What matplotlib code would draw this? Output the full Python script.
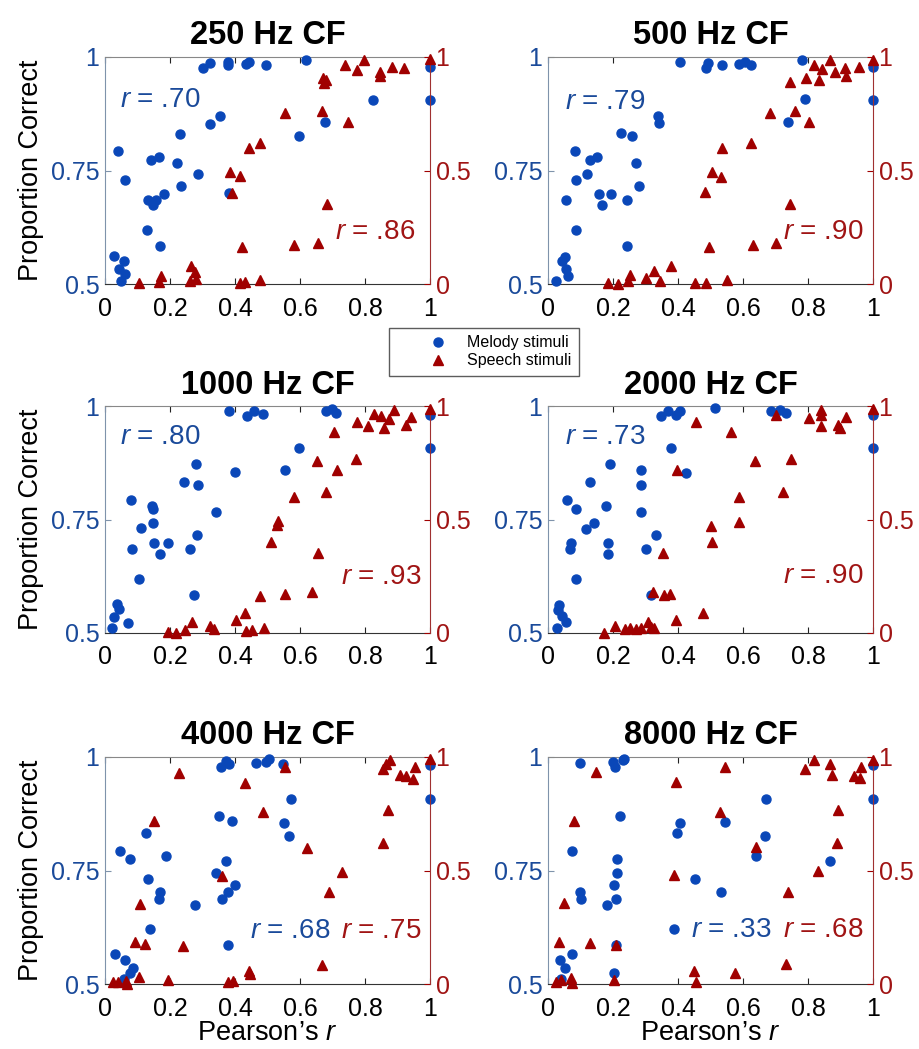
import matplotlib.pyplot as plt
from matplotlib.lines import Line2D

plt.rcParams['font.family'] = ['Liberation Sans', 'DejaVu Sans']
plt.rcParams['mathtext.fontset'] = 'custom'
plt.rcParams['mathtext.it'] = 'Liberation Sans:italic'
plt.rcParams['mathtext.rm'] = 'Liberation Sans'

# ---- data (x = Pearson's r) ----
# melody: left axis (proportion correct), speech: right axis
mel_x_250 = [0.301, 0.322, 0.378, 0.378, 0.435, 0.443, 0.496, 0.618, 1.0, 1.0, 0.825, 0.353, 0.322, 0.231, 0.597, 0.676, 0.039, 0.142, 0.165, 0.221, 0.063, 0.287, 0.234, 0.381, 0.132, 0.147, 0.157, 0.181, 0.129, 0.170, 0.029, 0.057, 0.044, 0.063, 0.049]
mel_y_250 = [0.976, 0.987, 0.983, 0.988, 0.985, 0.988, 0.983, 0.994, 0.979, 0.906, 0.906, 0.870, 0.853, 0.830, 0.826, 0.856, 0.793, 0.774, 0.779, 0.767, 0.730, 0.743, 0.715, 0.701, 0.686, 0.673, 0.684, 0.699, 0.618, 0.583, 0.561, 0.550, 0.533, 0.521, 0.507]
sp_x_250 = [1.0, 0.738, 0.798, 0.774, 0.846, 0.846, 0.882, 0.920, 0.671, 0.681, 0.673, 0.553, 0.669, 0.748, 0.443, 0.478, 0.385, 0.416, 0.392, 0.684, 0.422, 0.582, 0.656, 0.265, 0.276, 0.281, 0.260, 0.171, 0.167, 0.104, 0.414, 0.430, 0.478]
sp_y_250 = [0.991, 0.966, 0.985, 0.944, 0.932, 0.917, 0.956, 0.951, 0.907, 0.897, 0.885, 0.755, 0.764, 0.715, 0.600, 0.619, 0.494, 0.475, 0.401, 0.354, 0.165, 0.174, 0.181, 0.081, 0.052, 0.022, 0.015, 0.037, 0.007, 0.003, 0.003, 0.007, 0.018]

mel_x_500 = [0.405, 0.487, 0.492, 0.536, 0.587, 0.605, 0.626, 0.783, 1.0, 1.0, 0.790, 0.738, 0.338, 0.342, 0.226, 0.259, 0.082, 0.128, 0.151, 0.270, 0.085, 0.121, 0.279, 0.157, 0.195, 0.167, 0.056, 0.243, 0.087, 0.243, 0.051, 0.044, 0.054, 0.062, 0.024]
mel_y_500 = [0.988, 0.976, 0.987, 0.983, 0.985, 0.988, 0.983, 0.994, 0.979, 0.906, 0.907, 0.857, 0.870, 0.854, 0.832, 0.826, 0.794, 0.774, 0.779, 0.767, 0.730, 0.742, 0.715, 0.699, 0.699, 0.673, 0.684, 0.684, 0.618, 0.583, 0.560, 0.550, 0.533, 0.518, 0.507]
sp_x_500 = [1.0, 0.867, 0.817, 0.844, 0.882, 0.913, 0.918, 0.957, 0.793, 0.834, 0.746, 0.684, 0.759, 0.803, 0.536, 0.626, 0.504, 0.532, 0.482, 0.744, 0.495, 0.631, 0.703, 0.379, 0.325, 0.344, 0.303, 0.251, 0.246, 0.185, 0.215, 0.451, 0.487, 0.551]
sp_y_500 = [0.988, 0.985, 0.966, 0.947, 0.932, 0.951, 0.917, 0.956, 0.907, 0.900, 0.888, 0.755, 0.764, 0.715, 0.597, 0.619, 0.494, 0.472, 0.406, 0.354, 0.165, 0.173, 0.180, 0.081, 0.056, 0.015, 0.025, 0.041, 0.012, 0.003, 0.0, 0.003, 0.004, 0.018]

mel_x_1000 = [0.381, 0.437, 0.460, 0.486, 0.679, 0.699, 0.710, 1.0, 1.0, 0.597, 0.553, 0.399, 0.281, 0.242, 0.286, 0.080, 0.145, 0.149, 0.342, 0.147, 0.111, 0.284, 0.150, 0.195, 0.170, 0.082, 0.260, 0.104, 0.273, 0.036, 0.042, 0.029, 0.070, 0.021]
mel_y_1000 = [0.990, 0.977, 0.988, 0.982, 0.988, 0.993, 0.984, 0.980, 0.907, 0.908, 0.858, 0.855, 0.872, 0.832, 0.826, 0.792, 0.780, 0.774, 0.766, 0.742, 0.731, 0.715, 0.699, 0.699, 0.674, 0.685, 0.685, 0.619, 0.584, 0.564, 0.553, 0.535, 0.522, 0.510]
sp_x_1000 = [1.0, 0.889, 0.827, 0.848, 0.875, 0.941, 0.776, 0.810, 0.859, 0.926, 0.705, 0.651, 0.771, 0.715, 0.581, 0.681, 0.532, 0.529, 0.510, 0.654, 0.478, 0.555, 0.636, 0.430, 0.404, 0.433, 0.453, 0.488, 0.268, 0.245, 0.193, 0.219, 0.322, 0.334]
sp_y_1000 = [0.985, 0.982, 0.965, 0.956, 0.941, 0.953, 0.931, 0.912, 0.902, 0.916, 0.887, 0.758, 0.767, 0.718, 0.597, 0.619, 0.494, 0.477, 0.403, 0.352, 0.164, 0.173, 0.180, 0.088, 0.059, 0.007, 0.012, 0.022, 0.048, 0.015, 0.004, 0.0, 0.029, 0.018]

mel_x_2000 = [0.513, 0.349, 0.369, 0.395, 0.407, 0.687, 0.713, 0.731, 1.0, 1.0, 0.379, 0.426, 0.190, 0.287, 0.287, 0.128, 0.059, 0.085, 0.179, 0.285, 0.118, 0.142, 0.331, 0.185, 0.185, 0.072, 0.067, 0.303, 0.085, 0.318, 0.034, 0.031, 0.044, 0.054, 0.028]
mel_y_2000 = [0.995, 0.977, 0.988, 0.980, 0.988, 0.988, 0.991, 0.984, 0.980, 0.907, 0.907, 0.853, 0.872, 0.858, 0.826, 0.832, 0.792, 0.773, 0.779, 0.767, 0.730, 0.742, 0.715, 0.699, 0.674, 0.699, 0.685, 0.685, 0.619, 0.584, 0.562, 0.551, 0.537, 0.524, 0.510]
sp_x_2000 = [1.0, 0.841, 0.841, 0.703, 0.803, 0.916, 0.839, 0.892, 0.897, 0.454, 0.564, 0.636, 0.749, 0.398, 0.723, 0.588, 0.588, 0.503, 0.505, 0.354, 0.323, 0.356, 0.374, 0.395, 0.477, 0.205, 0.172, 0.236, 0.253, 0.272, 0.287, 0.308, 0.318, 0.325]
sp_y_2000 = [0.985, 0.982, 0.960, 0.960, 0.946, 0.953, 0.912, 0.916, 0.902, 0.931, 0.887, 0.758, 0.765, 0.718, 0.619, 0.597, 0.491, 0.472, 0.403, 0.352, 0.180, 0.169, 0.173, 0.059, 0.088, 0.032, 0.0, 0.018, 0.020, 0.016, 0.020, 0.047, 0.025, 0.020]

mel_x_4000 = [0.358, 0.373, 0.383, 0.466, 0.494, 0.505, 0.548, 1.0, 1.0, 0.573, 0.350, 0.392, 0.551, 0.565, 0.126, 0.047, 0.077, 0.188, 0.371, 0.132, 0.340, 0.399, 0.378, 0.361, 0.170, 0.165, 0.277, 0.137, 0.378, 0.032, 0.062, 0.087, 0.077, 0.057]
mel_y_4000 = [0.978, 0.991, 0.984, 0.987, 0.989, 0.996, 0.985, 0.982, 0.908, 0.908, 0.871, 0.858, 0.854, 0.827, 0.832, 0.794, 0.776, 0.781, 0.770, 0.732, 0.745, 0.717, 0.702, 0.688, 0.702, 0.688, 0.675, 0.621, 0.587, 0.565, 0.553, 0.535, 0.524, 0.511]
sp_x_4000 = [1.0, 0.877, 0.864, 0.854, 0.954, 0.907, 0.926, 0.947, 0.553, 0.227, 0.430, 0.872, 0.486, 0.152, 0.856, 0.623, 0.730, 0.361, 0.690, 0.108, 0.092, 0.124, 0.240, 0.669, 0.442, 0.445, 0.106, 0.193, 0.378, 0.394, 0.024, 0.039, 0.065, 0.067]
sp_y_4000 = [0.993, 0.985, 0.968, 0.949, 0.956, 0.919, 0.915, 0.904, 0.956, 0.929, 0.885, 0.765, 0.757, 0.716, 0.621, 0.600, 0.493, 0.474, 0.404, 0.353, 0.184, 0.176, 0.169, 0.085, 0.059, 0.044, 0.029, 0.018, 0.007, 0.015, 0.007, 0.010, 0.015, 0.0]

mel_x_8000 = [0.097, 0.200, 0.205, 0.231, 0.233, 1.0, 1.0, 0.672, 0.223, 0.405, 0.397, 0.544, 0.669, 0.074, 0.212, 0.213, 0.203, 0.208, 0.182, 0.097, 0.101, 0.451, 0.531, 0.641, 0.867, 0.387, 0.208, 0.074, 0.036, 0.051, 0.039, 0.202]
mel_y_8000 = [0.987, 0.989, 0.978, 0.993, 0.996, 0.982, 0.908, 0.908, 0.871, 0.854, 0.832, 0.857, 0.827, 0.794, 0.776, 0.744, 0.717, 0.688, 0.675, 0.702, 0.688, 0.732, 0.702, 0.781, 0.770, 0.621, 0.586, 0.565, 0.553, 0.535, 0.511, 0.524]
sp_x_8000 = [1.0, 0.818, 0.790, 0.867, 0.874, 0.964, 0.942, 0.959, 0.544, 0.147, 0.395, 0.528, 0.892, 0.079, 0.890, 0.641, 0.831, 0.387, 0.738, 0.048, 0.034, 0.130, 0.208, 0.731, 0.449, 0.454, 0.574, 0.202, 0.024, 0.041, 0.070, 0.074]
sp_y_8000 = [0.988, 0.985, 0.949, 0.968, 0.919, 0.956, 0.918, 0.907, 0.956, 0.934, 0.890, 0.757, 0.768, 0.718, 0.621, 0.603, 0.496, 0.478, 0.407, 0.357, 0.187, 0.179, 0.174, 0.088, 0.059, 0.010, 0.050, 0.018, 0.007, 0.018, 0.026, 0.004]

titles = ['250 Hz CF', '500 Hz CF', '1000 Hz CF', '2000 Hz CF', '4000 Hz CF', '8000 Hz CF']
r_melody = ['.70', '.79', '.80', '.73', '.68', '.33']
r_speech = ['.86', '.90', '.93', '.90', '.75', '.68']

BLUE = '#0a47b8'
RED = '#a00000'
BLUE_TXT = '#1a4a9a'
RED_TXT = '#a01414'

W, H = 919, 1049
col_left = [105, 548]
row_top = [57, 406, 757]
ax_w, ax_h = 325, 227

# where the r labels sit (axes fraction): (blue x, blue y, red right x, red y)
r_pos = [
    (0.046, 0.81, 0.955, 0.23),
    (0.052, 0.80, 0.969, 0.23),
    (0.046, 0.863, 0.972, 0.247),
    (0.052, 0.863, 0.969, 0.25),
    (0.446, 0.233, 0.972, 0.233),
    (0.440, 0.238, 0.969, 0.238),
]

data = [
    (mel_x_250, mel_y_250, sp_x_250, sp_y_250),
    (mel_x_500, mel_y_500, sp_x_500, sp_y_500),
    (mel_x_1000, mel_y_1000, sp_x_1000, sp_y_1000),
    (mel_x_2000, mel_y_2000, sp_x_2000, sp_y_2000),
    (mel_x_4000, mel_y_4000, sp_x_4000, sp_y_4000),
    (mel_x_8000, mel_y_8000, sp_x_8000, sp_y_8000),
]

fig = plt.figure(figsize=(W / 100, H / 100), dpi=100)

for i in range(6):
    row, col = i // 2, i % 2
    rect = [col_left[col] / W, 1 - (row_top[row] + ax_h) / H, ax_w / W, ax_h / H]
    ax = fig.add_axes(rect)
    ax2 = ax.twinx()
    mx, my, sx, sy = data[i]

    ax.plot(mx, my, 'o', color=BLUE, ms=6.5, mec=BLUE, clip_on=False, zorder=3)
    ax2.plot(sx, sy, '^', color=RED, ms=7.8, mec=RED, clip_on=False, zorder=3)

    ax.set_xlim(0, 1)
    ax.set_ylim(0.5, 1)
    ax2.set_ylim(0, 1)
    ax.set_xticks([0, 0.2, 0.4, 0.6, 0.8, 1])
    ax.set_xticklabels(['0', '0.2', '0.4', '0.6', '0.8', '1'])
    ax.set_yticks([0.5, 0.75, 1])
    ax.set_yticklabels(['0.5', '0.75', '1'])
    ax2.set_yticks([0, 0.5, 1])
    ax2.set_yticklabels(['0', '0.5', '1'])

    ax.tick_params(axis='x', direction='in', length=4, top=True, labelsize=18, pad=9, colors='#222222', labelcolor='black')
    ax.tick_params(axis='y', direction='in', length=4, labelsize=18, pad=4, color='#7f93ab', labelcolor=BLUE_TXT)
    ax2.tick_params(axis='y', direction='in', length=4, labelsize=18, pad=4, color=RED, labelcolor=RED_TXT)

    ax.spines['left'].set_color('#7f93ab')
    ax.spines['top'].set_color('#888888')
    ax.spines['bottom'].set_color('#333333')
    ax.spines['right'].set_visible(False)
    ax2.spines['left'].set_visible(False)
    ax2.spines['top'].set_visible(False)
    ax2.spines['bottom'].set_visible(False)
    ax2.spines['right'].set_color('#a03030')

    ax.set_title(titles[i], fontsize=23.5, fontweight='bold', pad=9)

    bx, by, rx, ry = r_pos[i]
    ax.text(bx, by, '$r$ = ' + r_melody[i], transform=ax.transAxes, fontsize=20,
            color=BLUE_TXT, ha='left', va='center', zorder=5)
    ax.text(rx, ry, '$r$ = ' + r_speech[i], transform=ax.transAxes, fontsize=20,
            color=RED_TXT, ha='right', va='center', zorder=5)

    if col == 0:
        ax.set_ylabel('Proportion Correct', fontsize=19.5, labelpad=5)
    if row == 2:
        ax.set_xlabel('Pearson’s $r$', fontsize=19.5, labelpad=0)

handles = [
    Line2D([], [], marker='o', linestyle='none', color=BLUE, ms=6.5),
    Line2D([], [], marker='^', linestyle='none', color=RED, ms=7.5),
]
fig.legend(handles, ['Melody stimuli', 'Speech stimuli'], loc='upper left',
           bbox_to_anchor=(389 / W, 1 - 328 / H), fontsize=11.5, frameon=True,
           fancybox=False, edgecolor='#333333', borderaxespad=0, borderpad=0.45,
           handlelength=5.2, handletextpad=-0.75, labelspacing=0.2)

fig.savefig('out.png', dpi=100)
